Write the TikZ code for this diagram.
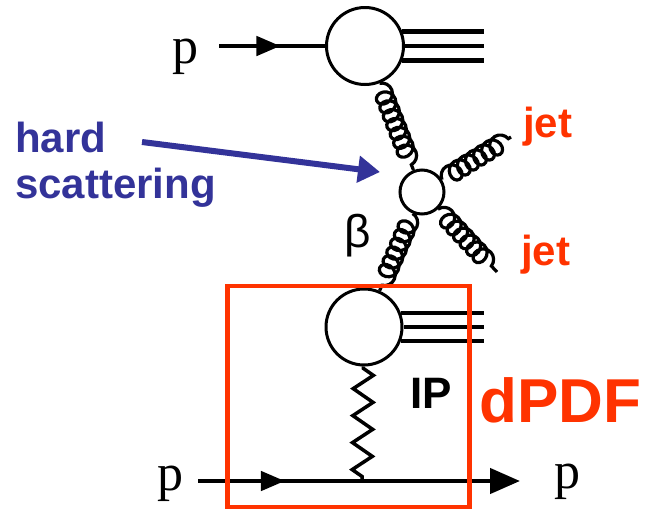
\documentclass[tikz,border=0pt]{standalone}
\usepackage{fontspec}
\setmainfont{Liberation Serif}
\newfontfamily\lsans{Liberation Sans}
\usetikzlibrary{decorations.pathmorphing,decorations.markings,arrows.meta}
\definecolor{dred}{RGB}{255,51,0}
\definecolor{dblue}{RGB}{51,51,153}
\begin{document}
\begin{tikzpicture}[x=1pt,y=-1pt,
  blob/.style={circle,draw,line width=3pt,inner sep=0pt,minimum size=#1},
  gluon/.style={line width=3.2pt,decorate,decoration={coil,amplitude=9pt,segment length=9.5pt,aspect=0.9}},
  pline/.style={line width=4.5pt},
  hline/.style={line width=4.5pt},
  midarrow/.style={postaction={decorate},decoration={markings,mark=at position #1 with {\arrow{Triangle[length=24pt,width=19pt]}}}},
  pomeron/.style={line width=3.5pt,decorate,decoration={zigzag,segment length=27pt,amplitude=10pt,pre length=2pt,post length=2pt}},
  plabel/.style={anchor=base west,inner sep=0pt,font=\fontsize{52}{52}\selectfont},
  boldlbl/.style={anchor=base west,inner sep=0pt,font=\lsans\bfseries\fontsize{#1}{#1}\selectfont}
]
\useasboundingbox (0,0) rectangle (648,512);
% blobs
\node[blob=77pt] (top) at (365,46) {};
\node[blob=44pt] (hs) at (422,192) {};
\node[blob=76pt] (bot) at (364,327) {};
% outgoing remnant lines
\coordinate (rx) at (484,0);
\foreach \a in {21,0,-21}{
  \draw[hline] (top.\a) -- (top.\a -| rx);
  \draw[hline] (bot.\a) -- (bot.\a -| rx);
}
% incoming proton
\node[plabel] (p1) at (172,63) {p};
\coordinate (tl) at (219,46);
\draw[pline,midarrow=0.58] (tl) -- (top);
% gluons
\coordinate (j1) at (511,137);
\coordinate (j2) at (497,272);
\draw[gluon] (top) -- (hs);
\draw[gluon] (hs) -- (j1);
\draw[gluon] (hs) -- (j2);
\draw[gluon] (hs) -- (bot);
% pomeron and bottom proton line
\coordinate (bl) at (198,481);
\coordinate (br) at (520,481);
\coordinate (vx) at (362,481);
\draw[pomeron] (bot) -- (vx);
\draw[pline,midarrow=0.27,-{Triangle[length=30pt,width=25pt]}] (bl) -- (br);
\node[plabel] (p2) at (157,490) {p};
\node[plabel] (p3) at (554,488) {p};
% labels
\node[inner sep=0pt,font=\lsans\fontsize{46}{46}\selectfont] (beta) at (358,236) {β};
\node[boldlbl=42,text=dblue] (hard) at (15,152) {hard};
\node[boldlbl=42,text=dblue] (scat) at (15,198) {scattering};
\coordinate (ba) at (142,142);
\coordinate (bb) at (380,172);
\draw[dblue,line width=6pt,-{Triangle[length=22pt,width=26pt]}] (ba) -- (bb);
\node[boldlbl=42,text=dred] (jet1) at (523,137) {jet};
\node[boldlbl=42,text=dred] (jet2) at (521,265) {jet};
\node[boldlbl=44] (ip) at (410,408) {IP};
\node[boldlbl=62,text=dred] (dpdf) at (479,422) {dPDF};
% dPDF box
\node[draw=dred,line width=4.5pt,inner sep=0pt,minimum width=242pt,minimum height=221pt] (dbox) at (348.5,396.5) {};
\end{tikzpicture}
\end{document}
